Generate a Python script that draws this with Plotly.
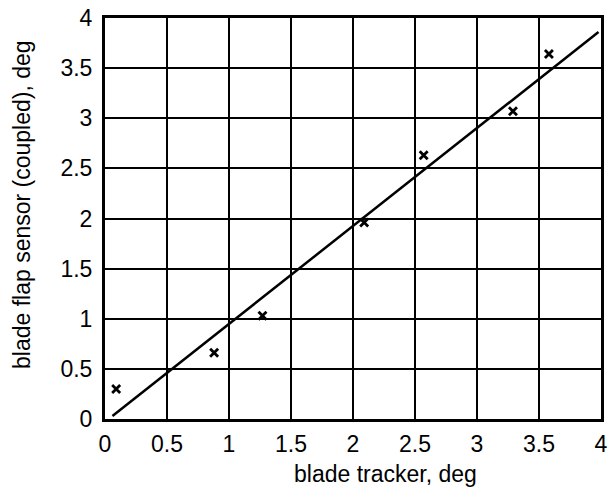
import plotly.graph_objects as go

tracker_deg = [0.09, 0.88, 1.27, 2.09, 2.57, 3.29, 3.58]
flap_deg = [0.30, 0.66, 1.03, 1.96, 2.63, 3.07, 3.64]
fit_x = [0.06, 3.98]
fit_y = [0.03, 3.86]
tick_vals = [0, 0.5, 1, 1.5, 2, 2.5, 3, 3.5, 4]
tick_text = ["0", "0.5", "1", "1.5", "2", "2.5", "3", "3.5", "4"]
x_title = "blade tracker, deg"
y_title = "blade flap sensor (coupled), deg"

L, R, T, B = 105, 9, 18, 71
W, H = 610, 490
pw, ph = W - L - R, H - T - B

fig = go.Figure()
fig.add_trace(go.Scatter(x=fit_x, y=fit_y, mode="lines",
                         line=dict(color="black", width=2.5), showlegend=False))
fig.add_trace(go.Scatter(x=tracker_deg, y=flap_deg, mode="markers",
                         marker=dict(symbol="x-thin", size=8, line=dict(color="black", width=2.8)),
                         showlegend=False))

font = dict(family="Liberation Sans, Arial, sans-serif", color="black")
axis_common = dict(range=[0, 4], tickvals=tick_vals, ticktext=tick_text,
                   showgrid=True, gridcolor="black", gridwidth=2.2,
                   showline=True, linecolor="black", linewidth=3, mirror=True,
                   zeroline=False, ticks="outside", tickcolor="rgba(0,0,0,0)",
                   automargin=False, tickfont=dict(size=23, **font))
fig.update_xaxes(**axis_common, ticklen=2)
fig.update_yaxes(**axis_common, ticklen=5)

fig.add_annotation(text=x_title, xref="paper", yref="paper",
                   x=(385 - L) / pw, y=(H - B - 474) / ph, xanchor="center", yanchor="middle",
                   showarrow=False, font=dict(size=23, **font))
fig.add_annotation(text=y_title, xref="paper", yref="paper", textangle=-90,
                   x=(22 - L) / pw, y=(H - B - 205) / ph, xanchor="center", yanchor="middle",
                   showarrow=False, font=dict(size=23, **font))

fig.update_layout(width=W, height=H, plot_bgcolor="white", paper_bgcolor="white",
                  margin=dict(l=L, r=R, t=T, b=B))
fig.write_html("out.html", config={"displayModeBar": False},
               post_script="document.body.style.margin='0';document.body.style.overflow='hidden';")
